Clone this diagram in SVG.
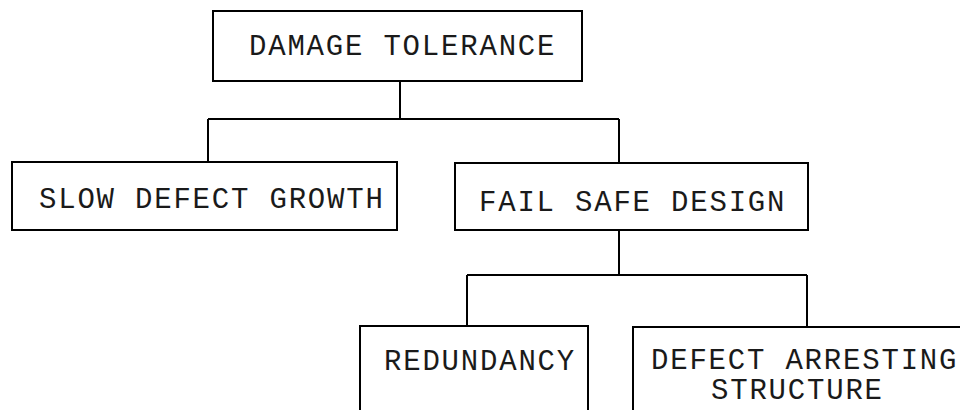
<svg xmlns="http://www.w3.org/2000/svg" width="960" height="410" viewBox="0 0 960 410">
<style>
.box{fill:none;stroke:#000;stroke-width:2}
.ln{fill:none;stroke:#000;stroke-width:2}
text{font-family:"Liberation Mono","DejaVu Sans Mono",monospace;font-size:29px;letter-spacing:1.8px;fill:#1a1a1a}
</style>
<rect width="960" height="410" fill="#fff"/>
<g id="connectors">
<path class="ln" d="M400 81V119M208 119H619M208 119V162M619 119V163"/>
<path class="ln" d="M619 230V275M467 275H807M467 275V326M807 275V327"/>
</g>
<g id="n-damage">
<rect class="box" x="213" y="11" width="369" height="70"/>
<text x="249" y="55">DAMAGE TOLERANCE</text>
</g>
<g id="n-slow">
<rect class="box" x="12" y="162" width="385" height="68"/>
<text x="39" y="208">SLOW DEFECT GROWTH</text>
</g>
<g id="n-failsafe">
<rect class="box" x="455" y="163" width="353" height="67"/>
<text x="479" y="211">FAIL SAFE DESIGN</text>
</g>
<g id="n-redundancy">
<path class="box" d="M360 411V326H588V411"/>
<text x="384" y="370">REDUNDANCY</text>
</g>
<g id="n-arresting">
<path class="box" d="M633 411V327H961"/>
<text x="651" y="369">DEFECT ARRESTING</text>
<text x="711" y="399">STRUCTURE</text>
</g>
</svg>
